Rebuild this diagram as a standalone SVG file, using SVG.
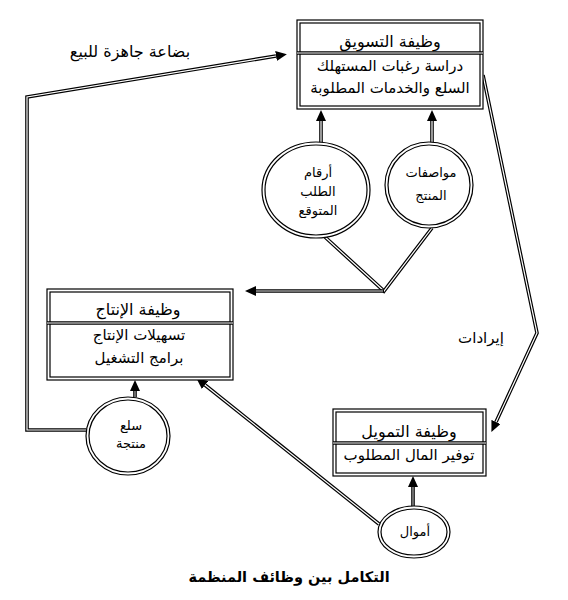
<svg xmlns="http://www.w3.org/2000/svg" width="568" height="600" viewBox="0 0 568 600">
<style>
text{font-family:"DejaVu Sans","Noto Sans",sans-serif;fill:#000;text-anchor:middle;direction:rtl}
.t{font-size:15px}
.h{font-size:16px}
.s{font-size:13px}
.box{fill:#fff;stroke:#000;stroke-width:1.2}
.in{fill:none;stroke:#000;stroke-width:1.2}
.dv{stroke:#000;stroke-width:3.5;fill:none}
.dvi{stroke:#fff;stroke-width:1.2;fill:none}
.o{stroke:#000;stroke-width:3.6;fill:none;stroke-linejoin:miter}
.i{stroke:#fff;stroke-width:1.2;fill:none;stroke-linejoin:miter}
.g{stroke:#999;stroke-width:1.4;fill:none}
.ce{fill:#fff;stroke:#000;stroke-width:1.2}
</style>
<defs>
<marker id="ah" markerUnits="userSpaceOnUse" markerWidth="12" markerHeight="10" refX="0" refY="5" orient="auto">
<path d="M0,0 L11,5 L0,10 Z" fill="#000"/>
</marker>
</defs>

<g id="connectors">
<path class="o" d="M321,143 V121" marker-end="url(#ah)"/>
<path class="i" d="M321,143 V121"/>
<path class="o" d="M432,143 V121" marker-end="url(#ah)"/>
<path class="i" d="M432,143 V121"/>
<path class="o" d="M325,237 L384,291 L432,228"/>
<path class="i" d="M325,237 L384,291 L432,228"/>
<path class="o" d="M384,291 H256" marker-end="url(#ah)"/>
<path class="g" d="M383,291 H256"/>
<path class="o" d="M135,397 V391" marker-end="url(#ah)"/>
<path class="g" d="M135,397 V391"/>
<path class="o" d="M86,430 H27 V97 L276,56" marker-end="url(#ah)"/>
<path class="i" d="M86,430 H27 V97 L276,56"/>
<path class="o" d="M483,75 L537,333 L496,422" marker-end="url(#ah)"/>
<path class="i" d="M483,75 L537,333 L496,422"/>
<path class="o" d="M413,507 V487" marker-end="url(#ah)"/>
<path class="g" d="M413,507 V487"/>
<path class="o" d="M379,524 L205,385" marker-end="url(#ah)"/>
<path class="i" d="M379,524 L205,385"/>
</g>

<g id="marketing">
<rect class="box" x="297" y="20" width="186" height="89"/>
<rect class="in" x="300" y="23" width="180" height="83"/>
<line class="dv" x1="297" y1="53" x2="483" y2="53"/>
<line class="dvi" x1="297" y1="53" x2="483" y2="53"/>
<text class="h" x="390" y="47">وظيفة التسويق</text>
<text class="t" x="390" y="71">دراسة رغبات المستهلك</text>
<text class="t" x="390" y="93">السلع والخدمات المطلوبة</text>
</g>

<g id="production">
<rect class="box" x="47" y="289" width="186" height="91"/>
<rect class="in" x="50" y="292" width="180" height="85"/>
<line class="dv" x1="47" y1="323" x2="233" y2="323"/>
<line class="dvi" x1="47" y1="323" x2="233" y2="323"/>
<text class="h" x="138" y="315">وظيفة الإنتاج</text>
<text class="t" x="139" y="340">تسهيلات الإنتاج</text>
<text class="t" x="139" y="363">برامج التشغيل</text>
</g>

<g id="finance">
<rect class="box" x="333" y="409" width="153" height="67"/>
<rect class="in" x="336" y="412" width="147" height="61"/>
<line class="dv" x1="333" y1="443" x2="486" y2="443"/>
<line class="dvi" x1="333" y1="443" x2="486" y2="443"/>
<text class="h" x="409" y="437">وظيفة التمويل</text>
<text class="t" x="409" y="460">توفير المال المطلوب</text>
</g>

<g id="demand">
<ellipse class="ce" cx="316" cy="190" rx="54" ry="48"/>
<ellipse class="in" cx="316" cy="190" rx="51" ry="45"/>
<text class="s" x="318" y="177">أرقام</text>
<text class="s" x="318" y="196">الطلب</text>
<text class="s" x="318" y="215">المتوقع</text>
</g>

<g id="specs">
<ellipse class="ce" cx="429" cy="185" rx="44" ry="43"/>
<ellipse class="in" cx="429" cy="185" rx="41" ry="40"/>
<text class="s" x="431" y="177">مواصفات</text>
<text class="s" x="431" y="200">المنتج</text>
</g>

<g id="goods">
<ellipse class="ce" cx="128" cy="436" rx="42" ry="39"/>
<ellipse class="in" cx="128" cy="436" rx="39" ry="36"/>
<text class="s" x="131" y="430">سلع</text>
<text class="s" x="131" y="448">منتجة</text>
</g>

<g id="money">
<ellipse class="ce" cx="414" cy="532" rx="36" ry="26"/>
<ellipse class="in" cx="414" cy="532" rx="33" ry="23"/>
<text class="s" x="415" y="536">أموال</text>
</g>

<g id="labels">
<text class="h" x="130" y="57">بضاعة جاهزة للبيع</text>
<text class="t" x="481" y="343">إيرادات</text>
<text x="289" y="582" style="font-size:14.5px;font-weight:bold">التكامل بين وظائف المنظمة</text>
</g>
</svg>
